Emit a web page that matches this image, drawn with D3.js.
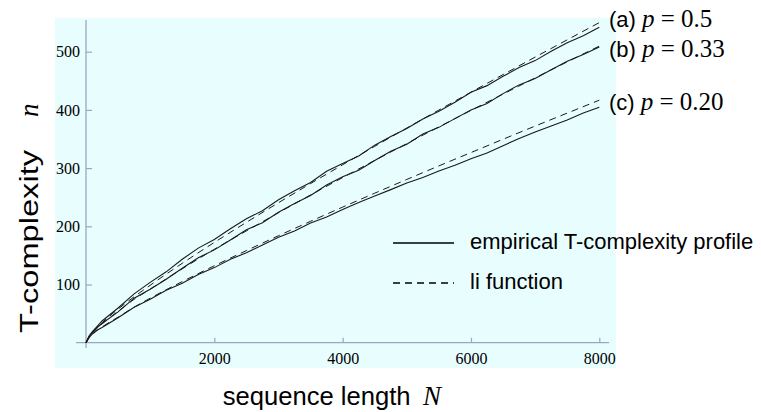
<!DOCTYPE html>
<html>
<head>
<meta charset="utf-8">
<script src="https://cdn.jsdelivr.net/npm/d3@7"></script>
<style>
  body { margin: 0; background: #fff; }
  svg { display: block; }
</style>
</head>
<body>
<svg id="chart" width="761" height="412"></svg>
<script>
// sequence lengths where the empirical profiles were read
var nEmp = [0, 50, 100, 150, 250, 500, 750, 1000, 1250, 1500, 1750, 2000, 2250, 2500, 2750,
    3000, 3250, 3500, 3750, 4000, 4250, 4500, 4750, 5000, 5250, 5500, 5750, 6000,
    6250, 6500, 6750, 7000, 7250, 7500, 7750, 8000];
var empA = [0, 12, 19, 25, 37.3, 59.7, 83.9, 103.7, 121.8, 143.4, 162.5, 177.3, 195.7, 212.8, 226.8,
    245.5, 261.1, 275.4, 294.7, 307.7, 320.7, 339.4, 354.3, 367.9, 384.5, 397.8, 413.2, 430.4,
    441.7, 457.7, 472.8, 484.7, 500.6, 515.4, 527.3, 542];
var empB = [0, 11, 18, 24, 33, 53, 76.5, 92, 109, 128, 146, 159.5, 176.5, 194, 206,
    224, 239, 253, 271, 285, 296.5, 313, 329, 341, 358.5, 370, 385, 400,
    411, 428, 443, 454, 469, 483.5, 495, 508];
var empC = [0, 9, 15, 20, 26, 43, 61, 74.5, 90, 102, 117, 129, 143.5, 154.5, 168,
    181, 192, 205.5, 216, 229, 241, 252, 263, 274.5, 284, 295, 305, 316,
    326, 338.5, 351, 362, 372.5, 382.5, 394.5, 404.5];

// li function samples
var nLi = [0, 50, 100, 250, 500, 750, 1000, 1500, 2000, 2500, 3000, 3500, 4000,
    4500, 5000, 5500, 6000, 6500, 7000, 7500, 8000];
var liA = [0, 11.2, 17.8, 34.3, 57.7, 78.9, 98.7, 136.4, 172.3, 206.8, 240.5, 273.4, 305.7,
    337.4, 368.9, 399.8, 430.4, 460.7, 490.7, 520.4, 550];
var liB = [0, 10.5, 16.8, 32.2, 54, 74.5, 92, 127, 160.5, 192.1, 223.3, 253.8, 283.7,
    313.2, 342.1, 370.9, 399.2, 427.2, 455, 482.5, 509.7];
var liC = [0, 8.8, 14.3, 27, 44, 61, 76.5, 105, 132.2, 158.3, 183.8, 208.6, 233,
    256.9, 280.5, 303.8, 326.7, 349.6, 372.2, 394.5, 416.7];

var xTicks = [2000, 4000, 6000, 8000];
var yTicks = [100, 200, 300, 400, 500];
var seriesTags = ["(a)", "(b)", "(c)"];
var pValues = ["0.5", "0.33", "0.20"];
var legendLabels = ["empirical T-complexity profile", "li function"];

var svg = d3.select("#chart");
var sans = "'Liberation Sans', Arial, Helvetica, sans-serif";
var serif = "'Liberation Serif', 'Times New Roman', serif";
var axisColor = "#9aa7c2";

// plot background
svg.append("rect")
    .attr("x", 55).attr("y", 18)
    .attr("width", 561).attr("height", 350)
    .attr("fill", "#e8fefe");

var x = d3.scaleLinear().domain([0, 8000]).range([86, 599.3]);
var y = d3.scaleLinear().domain([0, 500]).range([342.7, 51.7]);

// axes
var xAxis = svg.append("g")
    .attr("transform", "translate(0," + y(0) + ")")
    .call(d3.axisBottom(x).tickValues(xTicks).tickFormat(d3.format("d"))
        .tickSizeInner(-5).tickSizeOuter(0).tickPadding(10));
var yAxis = svg.append("g")
    .attr("transform", "translate(" + x(0) + ",0)")
    .call(d3.axisLeft(y).tickValues(yTicks).tickFormat(d3.format("d"))
        .tickSizeInner(-6).tickSizeOuter(0).tickPadding(6));

[xAxis, yAxis].forEach(function (g) {
    g.select(".domain").remove();
    g.selectAll(".tick line").attr("stroke", axisColor).attr("stroke-width", 1.2);
    g.selectAll(".tick text")
        .attr("fill", "#000")
        .style("font-family", serif)
        .style("font-size", "16px");
});

svg.append("line")
    .attr("x1", 76).attr("x2", 609)
    .attr("y1", y(0)).attr("y2", y(0))
    .attr("stroke", axisColor).attr("stroke-width", 1.3);
svg.append("line")
    .attr("x1", x(0)).attr("x2", x(0))
    .attr("y1", 348).attr("y2", 20)
    .attr("stroke", axisColor).attr("stroke-width", 1.3);

// curves
var empLine = d3.line()
    .x(function (d, i) { return x(nEmp[i]); })
    .y(function (d) { return y(d); });
var liLine = d3.line()
    .x(function (d, i) { return x(nLi[i]); })
    .y(function (d) { return y(d); })
    .curve(d3.curveMonotoneX);

[empA, empB, empC].forEach(function (s) {
    svg.append("path")
        .attr("d", empLine(s))
        .attr("fill", "none")
        .attr("stroke", "#1a1a1a")
        .attr("stroke-width", 1.1);
});
[liA, liB, liC].forEach(function (s) {
    svg.append("path")
        .attr("d", liLine(s))
        .attr("fill", "none")
        .attr("stroke", "#1a1a1a")
        .attr("stroke-width", 1)
        .attr("stroke-dasharray", "7,5");
});

// curve labels
var labelBase = [27, 57, 110];
seriesTags.forEach(function (tag, i) {
    var t = svg.append("text")
        .attr("x", 609)
        .attr("y", labelBase[i])
        .style("font-size", "22px")
        .attr("fill", "#000");
    t.append("tspan").style("font-family", sans).text(tag + " ");
    t.append("tspan").style("font-family", serif).style("font-style", "italic").style("font-size", "25px").text("p");
    t.append("tspan").style("font-family", serif).style("font-size", "25px").text(" = " + pValues[i]);
});

// legend
legendLabels.forEach(function (lab, i) {
    var ly = 243 + i * 40;
    svg.append("line")
        .attr("x1", 393).attr("x2", 454)
        .attr("y1", ly).attr("y2", ly)
        .attr("stroke", "#000")
        .attr("stroke-width", 1.4)
        .attr("stroke-dasharray", i === 0 ? null : "7,5");
    svg.append("text")
        .attr("x", 470)
        .attr("y", ly + 6)
        .style("font-family", sans)
        .style("font-size", "22px")
        .attr("fill", "#000")
        .text(lab);
});

// axis titles
svg.append("text")
    .attr("x", 222.7)
    .attr("y", 405)
    .style("font-family", sans)
    .style("font-size", "25.6px")
    .attr("fill", "#000")
    .text("sequence length");
svg.append("text")
    .attr("x", 423)
    .attr("y", 405)
    .style("font-family", serif)
    .style("font-style", "italic")
    .style("font-size", "27px")
    .attr("fill", "#000")
    .text("N");

svg.append("text")
    .attr("transform", "translate(38,333) rotate(-90)")
    .attr("textLength", 183)
    .attr("lengthAdjust", "spacingAndGlyphs")
    .style("font-family", sans)
    .style("font-size", "26px")
    .attr("fill", "#000")
    .text("T-complexity");
svg.append("text")
    .attr("transform", "translate(38,117) rotate(-90)")
    .style("font-family", serif)
    .style("font-style", "italic")
    .style("font-size", "27px")
    .attr("fill", "#000")
    .text("n");
</script>
</body>
</html>
